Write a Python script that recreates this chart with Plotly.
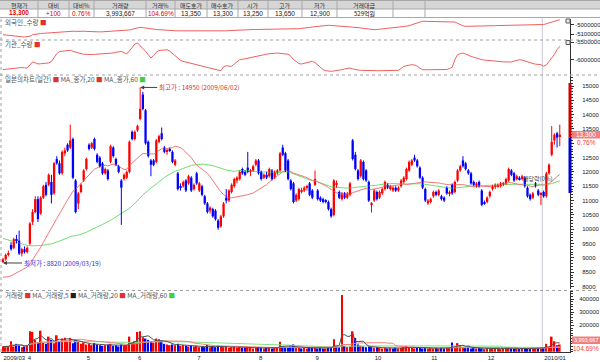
import plotly.graph_objects as go
import pandas as pd

W, H = 600, 362
def px(x): return x / W
def py(y): return 1 - y / H

# ---------------- data ----------------
holidays = {"2009-05-01", "2009-05-05", "2009-10-02", "2009-12-25", "2009-12-31", "2010-01-01"}
dates = [d.strftime("%Y-%m-%d") for d in pd.bdate_range("2009-03-19", "2010-01-12")
         if d.strftime("%Y-%m-%d") not in holidays]

month_ticks = ["2009-03-19", "2009-04-01", "2009-05-04", "2009-06-01", "2009-07-01", "2009-08-03",
               "2009-09-01", "2009-10-01", "2009-11-02", "2009-12-01", "2010-01-04"]
month_labels = ["2009/03", "4", "5", "6", "7", "8", "9", "10", "11", "12", "2010/01"]

prior_closes = [10800, 10900, 11000, 10850, 10950, 11100, 11000, 10900, 10750, 10800,
                10950, 10850, 10700, 10600, 10750, 10650, 10500, 10600, 10450, 10550,
                10400, 10300, 10450, 10350, 10200, 10300, 10150, 10250, 10100, 10000,
                10150, 10050, 9900, 9800, 9950, 9850, 9700, 9600, 9450, 9300,
                9150, 9000, 8800, 8700, 8600, 8500, 8400, 8300, 8250, 8100,
                8000, 7900, 7850, 7800, 7950, 8000, 8100, 8200, 8400, 8600]

opens = [8850, 8950, 9100, 9450, 9350, 9650, 9600, 9150, 9300, 9200,
         9500, 10250, 10600, 11050, 10550, 11100, 11550, 11550, 11650, 11250,
         12450, 12300, 11950, 12650, 12950, 12850, 13150, 11700, 10900, 11300,
         11700, 12100, 12950, 12850, 13150, 12600, 12500, 12300, 11950, 12050,
         12350, 12850, 12450, 12200, 11700, 11750, 11800, 12000, 13400, 13150,
         13450, 13850, 14700, 14150, 13050, 12400, 12400, 12350, 13050, 13350,
         12850, 12700, 12800, 12700, 12250, 11950, 11500, 11500, 11700, 11600,
         11800, 11400, 11950, 11350, 11500, 11150, 10900, 10650, 10700, 10650,
         10300, 10100, 10450, 11100, 11000, 11300, 11500, 11700, 11750, 12100,
         12000, 12150, 12000, 12050, 12250, 12400, 12000, 11800, 11900, 11850,
         12050, 11800, 11950, 12050, 12850, 12650, 12400, 11700, 11600, 11000,
         11050, 11300, 11350, 11450, 11600, 11350, 11550, 11350, 11100, 11050,
         11000, 10950, 10700, 10500, 11550, 11300, 11050, 11250, 11100, 11200,
         13100, 12600, 12050, 11850, 12350, 12050, 11650, 10850, 11000, 11300,
         11100, 11250, 11400, 11550, 11400, 11350, 11450, 11350, 11500, 11650,
         11750, 12050, 12250, 12500, 12400, 12150, 11800, 11400, 10900, 10950,
         11150, 11300, 11200, 11150, 11100, 11450, 11250, 11550, 11300, 11700,
         12050, 12400, 12300, 12050, 11950, 11650, 11500, 11650, 11350, 10950,
         10950, 11150, 11400, 11500, 11500, 11500, 11550, 11600, 11700, 12050,
         11950, 11750, 11800, 11750, 11800, 11450, 11200, 11100, 11600, 11350,
         11200, 11300, 11150, 11950, 12600, 13100, 13350, 13250]
highs = [9000, 9150, 9250, 9550, 9700, 9800, 9950, 9350, 9400, 9400,
         10250, 10700, 11150, 11150, 11150, 11550, 11650, 11950, 11900, 12350,
         12550, 12400, 12750, 12850, 13000, 13650, 13200, 11750, 11300, 11600,
         12100, 12500, 13000, 13050, 13200, 12650, 12550, 12350, 12150, 12100,
         12950, 12900, 12500, 12250, 11750, 11950, 12050, 13100, 13450, 13450,
         13650, 14950, 14800, 14200, 13100, 12450, 12450, 13150, 13300, 13550,
         12900, 12800, 12850, 12750, 12450, 12000, 11600, 11700, 11750, 11900,
         11850, 11600, 12000, 11650, 11550, 11200, 10950, 10800, 10750, 10700,
         10350, 10500, 10950, 11400, 11400, 11600, 11800, 11850, 12050, 12150,
         12050, 12700, 12100, 12250, 12450, 12450, 12050, 11950, 12000, 12150,
         12100, 12050, 12100, 12700, 12950, 12700, 12450, 11750, 11650, 11250,
         11450, 11450, 11500, 11550, 11650, 11400, 12050, 11400, 11150, 11100,
         11050, 11000, 10750, 11750, 11700, 11350, 11300, 11300, 11300, 11650,
         13150, 12700, 12100, 12450, 12400, 12100, 11700, 10950, 11400, 11350,
         11350, 11450, 11700, 11600, 11550, 11500, 11500, 11500, 11750, 11850,
         12150, 12400, 12450, 12600, 12450, 12200, 11850, 11450, 11050, 11100,
         11350, 11350, 11400, 11200, 11150, 11500, 11350, 11600, 11700, 12100,
         12250, 12550, 12350, 12100, 12000, 11700, 11650, 11700, 11400, 11000,
         11150, 11350, 11550, 11600, 11600, 11650, 11650, 11800, 12150, 12100,
         12000, 11900, 11850, 11900, 11850, 11500, 11250, 11300, 11650, 11400,
         11300, 11350, 12000, 12300, 13600, 13350, 13400, 13650]
lows = [8820, 8900, 9050, 9250, 9300, 9500, 9100, 9050, 9150, 9150,
        9450, 10150, 10550, 10250, 10500, 11050, 11150, 11500, 10900, 11200,
        12250, 11900, 11900, 12550, 12700, 12800, 11750, 10550, 10700, 11250,
        11650, 12050, 12750, 12800, 12750, 12300, 12150, 11900, 11900, 11700,
        12300, 12500, 12200, 11950, 10150, 11700, 11750, 11950, 13100, 13100,
        13400, 13800, 14150, 12950, 12500, 11850, 12200, 12300, 13000, 13100,
        12650, 12600, 12700, 12300, 12200, 11350, 11350, 11450, 11300, 11550,
        11300, 11350, 11550, 11300, 11150, 10850, 10550, 10550, 10400, 10300,
        9980, 10050, 10400, 10900, 10950, 11250, 11450, 11600, 11700, 11900,
        11850, 11950, 11850, 12000, 12200, 11900, 11700, 11750, 11750, 11800,
        11700, 11750, 11900, 12000, 12550, 12000, 11700, 11350, 10900, 10950,
        11000, 11250, 11300, 11350, 11150, 11050, 11500, 11000, 10950, 10900,
        10900, 10650, 10400, 10450, 11450, 11050, 11000, 11050, 11050, 11150,
        12400, 12050, 11700, 11800, 11700, 11650, 10950, 10580, 10950, 11000,
        11050, 11200, 11350, 11400, 11350, 11300, 11300, 11300, 11450, 11600,
        11700, 12000, 12200, 12350, 12150, 11750, 11400, 10950, 10850, 10900,
        11100, 11150, 11150, 11000, 10950, 11200, 11150, 11200, 11250, 11650,
        12000, 12150, 12050, 11900, 11550, 11500, 11450, 11450, 10800, 10850,
        10900, 11100, 11350, 11400, 11450, 11450, 11500, 11550, 11650, 11850,
        11650, 11700, 11700, 11700, 11450, 11100, 11000, 11050, 11450, 11150,
        10850, 11100, 11100, 11900, 12550, 12950, 12850, 12900]
closes = [8950, 9100, 9150, 9300, 9650, 9600, 9150, 9300, 9200, 9350,
          10200, 10600, 11050, 10350, 11100, 11500, 11200, 11900, 11200, 12300,
          12300, 11950, 12700, 12750, 12750, 13100, 11800, 10600, 11250, 11550,
          12050, 12450, 12800, 13000, 12800, 12350, 12200, 11950, 12100, 11750,
          12900, 12550, 12250, 12000, 11450, 11900, 12000, 13050, 13150, 13400,
          13600, 14200, 14200, 13000, 12550, 12250, 12250, 13100, 13250, 13150,
          12700, 12750, 12750, 12350, 12400, 11400, 11450, 11650, 11350, 11850,
          11350, 11550, 11600, 11600, 11200, 10900, 10600, 10750, 10450, 10350,
          10050, 10450, 10900, 11000, 11350, 11550, 11750, 11800, 12000, 11950,
          11900, 12000, 12050, 12200, 12400, 11950, 11750, 11900, 11800, 12100,
          11750, 12000, 12050, 12650, 12600, 12050, 11750, 11400, 10950, 11200,
          11400, 11350, 11450, 11500, 11200, 11100, 11750, 11050, 11000, 10950,
          10950, 10700, 10450, 11700, 11600, 11100, 11250, 11100, 11250, 11600,
          12450, 12100, 11750, 12400, 11750, 11700, 11000, 10900, 11350, 11050,
          11300, 11400, 11650, 11450, 11500, 11450, 11350, 11450, 11700, 11800,
          12100, 12350, 12400, 12400, 12200, 11800, 11450, 11000, 11000, 11050,
          11300, 11200, 11350, 11050, 11000, 11250, 11300, 11250, 11650, 12050,
          12200, 12200, 12100, 11950, 11600, 11550, 11600, 11500, 10850, 10900,
          11100, 11300, 11500, 11550, 11550, 11600, 11600, 11750, 12100, 11900,
          11700, 11850, 11750, 11850, 11500, 11150, 11050, 11250, 11500, 11200,
          11250, 11150, 11950, 12250, 13050, 13300, 13200, 13300]

volumes = [40000, 35000, 45000, 80000, 40000, 60000, 45000, 35000, 40000, 45000,
           155000, 150000, 90000, 70000, 160000, 70000, 60000, 115000, 90000, 65000,
           125000, 80000, 100000, 107000, 80000, 105000, 65000, 90000, 75000, 60000,
           70000, 55000, 60000, 50000, 65000, 55000, 50000, 45000, 50000, 55000,
           60000, 45000, 50000, 40000, 55000, 45000, 50000, 115000, 70000, 80000,
           150000, 155000, 110000, 100000, 90000, 80000, 70000, 100000, 95000, 80000,
           60000, 55000, 50000, 55000, 50000, 60000, 45000, 50000, 45000, 40000,
           45000, 40000, 45000, 35000, 40000, 35000, 50000, 35000, 40000, 35000,
           45000, 40000, 35000, 40000, 30000, 35000, 40000, 30000, 35000, 30000,
           30000, 35000, 30000, 25000, 30000, 35000, 30000, 25000, 30000, 30000,
           25000, 30000, 35000, 75000, 40000, 35000, 30000, 40000, 55000, 30000,
           30000, 25000, 30000, 25000, 30000, 35000, 30000, 25000, 30000, 25000,
           25000, 30000, 35000, 95000, 40000, 35000, 430000, 45000, 35000, 40000,
           155000, 105000, 55000, 45000, 40000, 35000, 40000, 35000, 30000, 35000,
           30000, 25000, 30000, 25000, 30000, 25000, 30000, 25000, 30000, 35000,
           45000, 30000, 30000, 25000, 30000, 30000, 25000, 30000, 25000, 30000,
           25000, 30000, 25000, 30000, 25000, 30000, 30000, 70000, 30000, 65000,
           45000, 35000, 30000, 40000, 25000, 30000, 25000, 30000, 25000, 20000,
           25000, 20000, 25000, 30000, 25000, 20000, 25000, 30000, 35000, 25000,
           20000, 25000, 20000, 25000, 30000, 25000, 20000, 25000, 30000, 35000,
           25000, 30000, 60000, 35000, 115000, 80000, 50000, 55000]

# cumulative holdings, thousand shares
foreign_k = [-5104, -5108, -5112, -5115, -5118, -5120, -5124, -5126, -5128, -5127,
             -5120, -5105, -5098, -5095, -5092, -5090, -5088, -5085, -5082, -5080,
             -5078, -5075, -5072, -5070, -5068, -5066, -5068, -5070, -5068, -5066,
             -5068, -5070, -5072, -5074, -5076, -5076, -5075, -5074, -5072, -5070,
             -5068, -5066, -5064, -5063, -5062, -5062, -5060, -5055, -5048, -5040,
             -5032, -5027, -5030, -5035, -5040, -5045, -5048, -5050, -5052, -5055,
             -5058, -5060, -5062, -5062, -5063, -5064, -5064, -5065, -5066, -5066,
             -5066, -5067, -5068, -5068, -5068, -5069, -5069, -5070, -5070, -5069,
             -5069, -5068, -5066, -5064, -5062, -5060, -5058, -5056, -5054, -5053,
             -5052, -5052, -5051, -5050, -5050, -5049, -5048, -5047, -5046, -5045,
             -5045, -5045, -5044, -5044, -5043, -5043, -5042, -5042, -5042, -5042,
             -5042, -5040, -5036, -5032, -5028, -5024, -5020, -5016, -5012, -5008,
             -5006, -5006, -5008, -5010, -5012, -5014, -5015, -5016, -5017, -5018,
             -5022, -5026, -5030, -5034, -5038, -5042, -5046, -5050, -5052, -5050,
             -5046, -5042, -5038, -5034, -5030, -5027, -5025, -5024, -5022, -5020,
             -5016, -5010, -5000, -4990, -4978, -4968, -4965, -4965, -4965, -4965,
             -4965, -4965, -4965, -4965, -4966, -4966, -4967, -4968, -4972, -4985,
             -5000, -5012, -5017, -5017, -5016, -5015, -5014, -5013, -5012, -5012,
             -5011, -5010, -5010, -5010, -5009, -5008, -5008, -5007, -5006, -5006,
             -5005, -5005, -5004, -5003, -5003, -5002, -5002, -5001, -5001, -5000,
             -5000, -4998, -4990, -4982, -4975, -4965, -4955, -4948]
institution_k = [-6280, -6270, -6255, -6240, -6230, -6222, -6215, -6220, -6230, -6234,
                 -6150, -6065, -6090, -6120, -6115, -6105, -6095, -6090, -6050, -5950,
                 -5830, -5770, -5760, -5750, -5740, -5734, -5760, -5790, -5811, -5830,
                 -5845, -5855, -5859, -5855, -5850, -5845, -5842, -5840, -5839, -5835,
                 -5825, -5810, -5790, -5770, -5763, -5800, -5839, -5750, -5640, -5560,
                 -5528, -5600, -5700, -5763, -5860, -5952, -5880, -5790, -5740, -5734,
                 -5725, -5718, -5760, -5820, -5876, -5950, -6028, -6050, -6070, -6090,
                 -6105, -6120, -6141, -6160, -6180, -6200, -6220, -6245, -6265, -6282,
                 -6305, -6311, -6200, -6169, -6180, -6186, -6120, -6060, -6000, -5990,
                 -5975, -5955, -5952, -5940, -5920, -5900, -5880, -5860, -5840, -5830,
                 -5820, -5815, -5811, -5820, -5830, -5839, -5845, -5900, -6000, -6045,
                 -6110, -6121, -6100, -6070, -6050, -6045, -6080, -6150, -6220, -6280,
                 -6310, -6325, -6328, -6320, -6311, -6300, -6280, -6260, -6240, -6234,
                 -6260, -6282, -6290, -6300, -6305, -6311, -6311, -6315, -6312, -6310,
                 -6311, -6312, -6310, -6311, -6312, -6311, -6310, -6300, -6250, -6190,
                 -6170, -6155, -6141, -6150, -6180, -6240, -6282, -6285, -6282, -6282,
                 -6283, -6282, -6280, -6282, -6282, -6275, -6250, -6215, -6000, -5859,
                 -5830, -5811, -5840, -5880, -5904, -5930, -5960, -5985, -6000, -6010,
                 -6020, -6028, -6035, -6045, -6050, -6055, -6060, -6063, -6065, -6065,
                 -6040, -6010, -6000, -6010, -6040, -6070, -6093, -6110, -6125, -6135,
                 -6141, -6186, -6150, -6050, -5952, -5850, -5718, -5621]

header_labels = ["현재가", "대비", "대비%", "거래량", "거래%", "매도호가", "매수호가", "시가", "고가", "저가", "거래대금", "", ""]
header_values = ["13,300", "+100", "0.76%", "3,993,667", "104.69%", "13,350", "13,300", "13,250", "13,650", "12,900", "529억원", "", ""]
header_value_colors = ["#e00000", "#e00000", "#e00000", "#202020", "#e00000", "#202020", "#202020",
                       "#202020", "#202020", "#202020", "#202020", "#202020", "#202020"]

price_ticks = list(range(8000, 15001, 500))
price_tick_labels = ["" if v == 13000 else str(v) for v in price_ticks]
volume_ticks = [100000, 200000, 300000, 400000]
volume_tick_labels = ["", "200000", "300000", "400000"]
foreign_ticks = [-5000000, -5100000]
foreign_tick_labels = ["-5000000", "-5100000"]
inst_ticks = [-5500000, -6000000]
inst_tick_labels = ["-5500000", "-6000000"]

# --------------- derived ---------------
all_closes = pd.Series(prior_closes + closes)
ma20 = all_closes.rolling(20).mean().iloc[len(prior_closes):].tolist()
ma60 = all_closes.rolling(60).mean().iloc[len(prior_closes):].tolist()
vs = pd.Series(volumes)
vma5 = vs.rolling(5, min_periods=1).mean().tolist()
vma20 = vs.rolling(20, min_periods=1).mean().tolist()
vma60 = vs.rolling(60, min_periods=1).mean().tolist()
prev = [prior_closes[-1]] + closes[:-1]
vol_colors = ["#ff0000" if c >= p else "#0000ff" for c, p in zip(closes, prev)]
foreign = [v * 1000 for v in foreign_k]
institution = [v * 1000 for v in institution_k]

up_base, up_h, dn_base, dn_h = [], [], [], []
up_wx, up_wy, dn_wx, dn_wy = [], [], [], []
for d, o, h, l, c in zip(dates, opens, highs, lows, closes):
    if c >= o:
        up_base.append(o); up_h.append(max(c - o, 20)); dn_base.append(None); dn_h.append(None)
        up_wx += [d, d, None]; up_wy += [l, h, None]
    else:
        dn_base.append(c); dn_h.append(o - c); up_base.append(None); up_h.append(None)
        dn_wx += [d, d, None]; dn_wy += [l, h, None]

FONT = "Noto Sans CJK KR"
NUMF = "Liberation Sans"
RED, BLUE = "#ff0000", "#0000ff"
fig = go.Figure()

fig.add_trace(go.Scatter(x=dates, y=foreign, mode="lines", line=dict(color="#f06060", width=1),
                         xaxis="x", yaxis="y", hoverinfo="skip"))
fig.add_trace(go.Scatter(x=dates, y=institution, mode="lines", line=dict(color="#f06060", width=1),
                         xaxis="x", yaxis="y2", hoverinfo="skip"))
fig.add_trace(go.Scatter(x=dates, y=ma60, mode="lines", line=dict(color="#70e070", width=1),
                         xaxis="x", yaxis="y3", hoverinfo="skip"))
fig.add_trace(go.Scatter(x=dates, y=ma20, mode="lines", line=dict(color="#f07878", width=1),
                         xaxis="x", yaxis="y3", hoverinfo="skip"))
fig.add_trace(go.Scatter(x=up_wx, y=up_wy, mode="lines", line=dict(color=RED, width=1),
                         xaxis="x", yaxis="y3", hoverinfo="skip", connectgaps=False))
fig.add_trace(go.Scatter(x=dn_wx, y=dn_wy, mode="lines", line=dict(color=BLUE, width=1),
                         xaxis="x", yaxis="y3", hoverinfo="skip", connectgaps=False))
fig.add_trace(go.Bar(x=dates, y=up_h, base=up_base, width=0.85, marker=dict(color=RED, line=dict(width=0)),
                     xaxis="x", yaxis="y3", hoverinfo="skip"))
fig.add_trace(go.Bar(x=dates, y=dn_h, base=dn_base, width=0.85, marker=dict(color=BLUE, line=dict(width=0)),
                     xaxis="x", yaxis="y3", hoverinfo="skip"))
fig.add_trace(go.Bar(x=dates, y=volumes, marker=dict(color=vol_colors, line=dict(width=0)), width=0.6,
                     xaxis="x", yaxis="y4", hoverinfo="skip"))
fig.add_trace(go.Scatter(x=dates, y=vma60, mode="lines", line=dict(color="#80e080", width=1),
                         xaxis="x", yaxis="y4", hoverinfo="skip"))
fig.add_trace(go.Scatter(x=dates, y=vma20, mode="lines", line=dict(color="#f08080", width=1),
                         xaxis="x", yaxis="y4", hoverinfo="skip"))
fig.add_trace(go.Scatter(x=dates, y=vma5, mode="lines", line=dict(color="#505050", width=1),
                         xaxis="x", yaxis="y4", hoverinfo="skip"))

def yax(standoff, **kw):
    d = dict(side="right", anchor="x", showgrid=False, zeroline=False, showline=True, automargin=False,
             linecolor="#303030", linewidth=1, ticks="outside", ticklen=3, tickcolor="#303030",
             tickfont=dict(family=NUMF, size=6, color="#202020"), ticklabelstandoff=standoff)
    d.update(kw)
    return d

fig.update_layout(
    width=W, height=H, margin=dict(l=0, r=0, t=0, b=0, autoexpand=False),
    paper_bgcolor="white", plot_bgcolor="white", showlegend=False, barmode="overlay",
    xaxis=dict(domain=[px(1), px(570)], anchor="y4", type="category", range=[-0.74, 210.8],
               tickvals=month_ticks, ticktext=month_labels, ticklabelposition="outside right",
               ticks="", showgrid=False, zeroline=False, showline=True, linecolor="#303030",
               automargin=False, tickfont=dict(family=NUMF, size=6, color="#202020"),
               rangeslider=dict(visible=False)),
    yaxis=yax(0, domain=[py(40), py(19)], range=[-5159400, -4940600],
              tickvals=foreign_ticks, ticktext=foreign_tick_labels),
    yaxis2=yax(0, domain=[py(75), py(40)], range=[-6432000, -5443500],
               tickvals=inst_ticks, ticktext=inst_tick_labels),
    yaxis3=yax(7, domain=[py(289), py(75)], range=[7912, 15384], tickvals=price_ticks,
               ticktext=price_tick_labels,
               minor=dict(dtick=100, ticks="outside", ticklen=2, tickcolor="#303030")),
    yaxis4=yax(4, domain=[py(352), py(291)], range=[-2000, 461000], tickvals=volume_ticks,
               ticktext=volume_tick_labels,
               minor=dict(dtick=20000, ticks="outside", ticklen=2, tickcolor="#303030")),
)

shapes = []
ann = []

# header table
cols = [0, 38, 69, 94, 146, 175, 207, 238, 268, 302, 337, 393, 425, 600]
shapes.append(dict(type="rect", xref="paper", yref="paper", x0=px(0), x1=px(600), y0=py(9), y1=py(0),
                   fillcolor="#d6d6d6", line=dict(width=0), layer="below"))
for y in [0.5, 9, 17.5]:
    shapes.append(dict(type="line", xref="paper", yref="paper", x0=0, x1=1, y0=py(y), y1=py(y),
                       line=dict(color="#a8a8a8", width=1)))
for xe in cols[1:-1]:
    shapes.append(dict(type="line", xref="paper", yref="paper", x0=px(xe), x1=px(xe), y0=py(17.5), y1=py(0),
                       line=dict(color="#a8a8a8", width=1)))
for k in range(len(cols) - 1):
    cx = (cols[k] + cols[k + 1]) / 2
    if header_labels[k]:
        ann.append(dict(x=px(cx), y=py(4.6), xref="paper", yref="paper", text=header_labels[k], showarrow=False,
                        font=dict(family=FONT, size=6, color="#303030"), xanchor="center", yanchor="middle",
                        height=8, valign="middle"))
    if header_values[k]:
        txt = "<b>%s</b>" % header_values[k] if k == 0 else header_values[k]
        ann.append(dict(x=px(cx), y=py(13.4), xref="paper", yref="paper", text=txt, showarrow=False,
                        font=dict(family=NUMF if k != 10 else FONT, size=6.5 if k != 10 else 6,
                                  color=header_value_colors[k]),
                        xanchor="center", yanchor="middle", height=8, valign="middle"))

# pane separators
for y in [40, 75, 290.5]:
    shapes.append(dict(type="line", xref="paper", yref="paper", x0=0, x1=1, y0=py(y), y1=py(y),
                       line=dict(color="#a0a0a0", width=1, dash="dot")))
shapes.append(dict(type="line", xref="paper", yref="paper", x0=px(1), x1=px(1), y0=py(352), y1=py(18),
                   line=dict(color="#a0a0a0", width=1, dash="dot")))
# year divider
shapes.append(dict(type="line", xref="x", yref="paper", x0=200.5, x1=200.5, y0=py(352), y1=py(18),
                   line=dict(color="#c8c8d8", width=1), layer="below"))
# small pane buttons
for yb in [21, 42.5]:
    shapes.append(dict(type="rect", xref="paper", yref="paper", x0=px(566), x1=px(570), y0=py(yb + 2), y1=py(yb - 2),
                       fillcolor="#e8e8e8", line=dict(color="#606060", width=1)))
# price-axis range bar
shapes.append(dict(type="rect", xref="paper", yref="paper", x0=px(568.5), x1=px(571.5), y0=py(137.5), y1=py(83),
                   fillcolor="#cc0000", line=dict(width=0)))
shapes.append(dict(type="rect", xref="paper", yref="paper", x0=px(568.5), x1=px(571.5), y0=py(193), y1=py(137.5),
                   fillcolor="#0000cc", line=dict(width=0)))
# current price box
shapes.append(dict(type="rect", xref="paper", yref="paper", x0=px(572), x1=px(600), y0=py(138.5), y1=py(131),
                   fillcolor="#f08080", line=dict(width=0)))
ann.append(dict(x=px(586), y=py(134.8), xref="paper", yref="paper", text="13,300", showarrow=False,
                font=dict(family=NUMF, size=6.5, color="white"), xanchor="center", yanchor="middle"))
ann.append(dict(x=px(586), y=py(142.5), xref="paper", yref="paper", text="0.76%", showarrow=False,
                font=dict(family=NUMF, size=6.5, color="#f04040"), xanchor="center", yanchor="middle"))
# current volume box
shapes.append(dict(type="rect", xref="paper", yref="paper", x0=px(572), x1=px(600), y0=py(344), y1=py(336.5),
                   fillcolor="#f08080", line=dict(width=0)))
ann.append(dict(x=px(586), y=py(340.3), xref="paper", yref="paper", text="3,993,667", showarrow=False,
                font=dict(family=NUMF, size=5.5, color="white"), xanchor="center", yanchor="middle"))
ann.append(dict(x=px(586), y=py(348), xref="paper", yref="paper", text="104.69%", showarrow=False,
                font=dict(family=NUMF, size=6.5, color="#f04040"), xanchor="center", yanchor="middle"))

# pane titles
def sq(c):
    return "<span style='color:%s'>■</span>" % c
titles = [(22, "외국인_수량 " + sq("#e03030")),
          (44, "기관_수량 " + sq("#e03030")),
          (79, "일본의차트(일간) " + sq("#e03030") + " MA_종가,20 " + sq("#e03030") + " MA_종가,60 " + sq("#40d040")),
          (295, "거래량 " + sq("#e03030") + " MA_거래량,5 " + sq("#202020") + " MA_거래량,20 " + sq("#e03030")
           + " MA_거래량,60 " + sq("#40d040"))]
for y, t in titles:
    ann.append(dict(x=px(3), y=py(y), xref="paper", yref="paper", text=t, showarrow=False,
                    font=dict(family=FONT, size=6.5, color="#505050"), xanchor="left", yanchor="middle"))

# high / low markers
ann.append(dict(x=dates[51], y=14950, xref="x", yref="y3", text="최고가 : 14950 (2009/06/02)",
                showarrow=True, arrowhead=2, arrowsize=0.8, arrowwidth=1, arrowcolor="#404040",
                ax=17, ay=0, xanchor="left", yanchor="middle",
                font=dict(family=FONT, size=6.5, color="#e03030")))
ann.append(dict(x=dates[0], y=8820, xref="x", yref="y3", text="최저가 : 8820 (2009/03/19)",
                showarrow=True, arrowhead=2, arrowsize=0.8, arrowwidth=1, arrowcolor="#404040",
                ax=19, ay=0, xanchor="left", yanchor="middle",
                font=dict(family=FONT, size=6.5, color="#3030e0")))
ann.append(dict(x=px(537), y=py(178), xref="paper", yref="paper", text="배당락(0%)", showarrow=False,
                font=dict(family=FONT, size=6, color="#404040"), xanchor="center", yanchor="middle"))

fig.update_layout(shapes=shapes, annotations=ann)
fig.write_html("out.html")
